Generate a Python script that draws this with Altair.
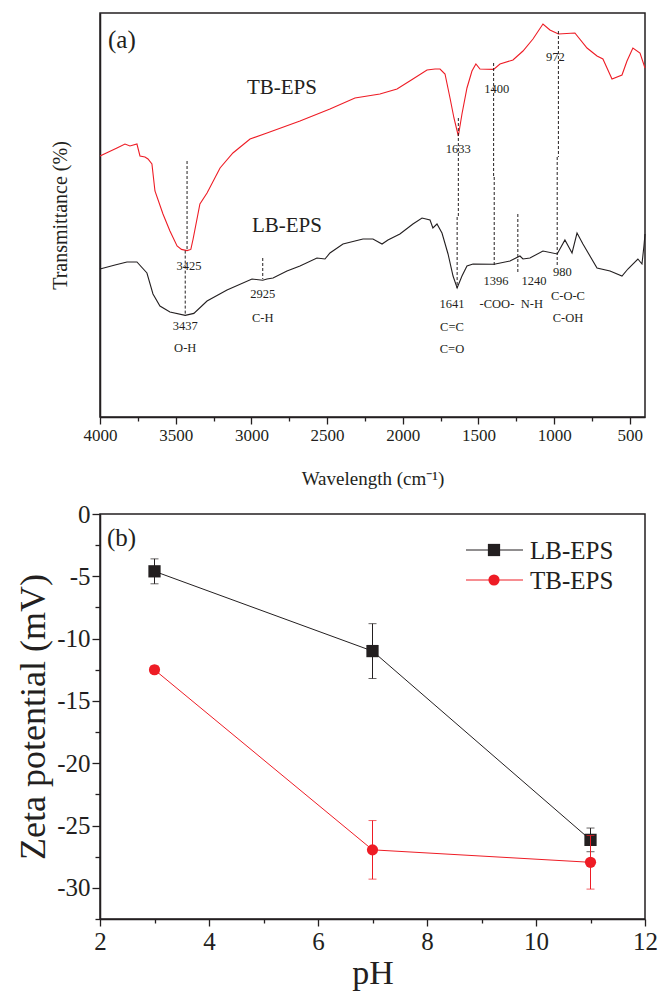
import altair as alt
import pandas as pd

FONT = "Liberation Serif"
INK = "#231f20"
RED = "#ee1c25"

# ---- (a) FTIR spectra: wavenumber (cm-1) vs transmittance (arbitrary units) ----
lb_wavenumber = [4000, 3901, 3822, 3756, 3690, 3650, 3604, 3538, 3437, 3380, 3293, 3161,
                 2996, 2925, 2897, 2857, 2765, 2679, 2567, 2514, 2481, 2395, 2263, 2197,
                 2137, 2098, 2019, 1933, 1873, 1820, 1801, 1774, 1741, 1701, 1668, 1641,
                 1609, 1576, 1536, 1396, 1292, 1226, 1206, 1160, 1074, 980, 929, 882, 849,
                 810, 717, 631, 552, 513, 447, 420, 407, 400]
lb_transmittance = [37, 38, 38.75, 38.75, 36, 30.75, 27.75, 26.25, 25.4, 25.9, 29, 31.75,
                    34.5, 34.2, 34.5, 34.75, 36.5, 37.75, 39.75, 39.5, 41, 43.25, 44.5, 44.5,
                    43.25, 44.25, 45.75, 48.25, 49.75, 49.25, 47.25, 48.25, 46, 40.75, 35.25,
                    32.25, 35.25, 37.75, 38.25, 38.2, 39, 40.25, 39.5, 39.75, 41.5, 40.75,
                    44.25, 41, 46, 43.25, 37.25, 36.5, 35.25, 37, 39.5, 38.25, 42.75, 45.75]

tb_wavenumber = [4000, 3888, 3835, 3802, 3756, 3736, 3703, 3683, 3657, 3637, 3584, 3538,
                 3491, 3462, 3425, 3400, 3385, 3340, 3293, 3207, 3122, 3009, 2897, 2679,
                 2481, 2316, 2151, 2038, 1933, 1840, 1787, 1754, 1721, 1688, 1662, 1633,
                 1609, 1576, 1543, 1517, 1490, 1400, 1358, 1272, 1206, 1140, 1074, 1028,
                 972, 863, 783, 717, 678, 618, 552, 519, 480, 433, 400]
tb_transmittance = [65.25, 67.25, 68.25, 67.75, 68.25, 65.25, 65, 64.5, 63.25, 56.5, 50.75,
                    46.5, 42.75, 41.9, 41.6, 41.9, 44.5, 53.25, 56, 62.25, 66, 69.5, 71, 74,
                    77, 79.75, 80.75, 82, 84.5, 86.75, 87, 87, 85.75, 79.75, 74.75, 70.25,
                    75.75, 82.25, 86.5, 88.25, 87, 86.9, 88.25, 89.25, 91.5, 94.5, 98.25,
                    96.75, 95.75, 96, 92.25, 90.25, 89.5, 84.5, 85.5, 89, 92.25, 91, 87.25]

# dotted guide lines at the assigned bands
guide_wavenumber = [3425, 3437, 2925, 1633, 1641, 1400, 1396, 1240, 972, 980]
guide_top = [64, 41.6, 39.75, 74.75, 50, 88.5, 60, 50.75, 96.5, 65]
guide_bottom = [41.6, 25.25, 34.5, 50, 32.25, 60, 37.75, 35.75, 65, 37.75]

# band annotations (anchor wavenumber, vertical level)
band_text = ["3425", "3437", "O-H", "2925", "C-H", "1633", "1400", "972", "1641", "C=C",
             "C=O", "1396", "-COO-", "1240", "N-H", "980", "C-O-C", "C-OH"]
band_wavenumber = [3412, 3437, 3437, 2925, 2925, 1633, 1380, 992, 1675, 1675, 1675, 1384,
                   1378, 1133, 1147, 945, 909, 909]
band_level = [37.75, 22.75, 17.25, 30.75, 24.75, 67, 82, 90, 28.25, 22.5, 17, 34, 28.25,
              34, 28.25, 36.25, 30.25, 24.75]

sample_names = ["TB-EPS", "LB-EPS"]
sample_wavenumber = [2798, 2765]
sample_level = [82.25, 47.75]

wn_major = list(range(500, 4001, 500))
wn_minor = list(range(750, 4000, 500))

# ---- (b) zeta potential vs pH ----
ph = [3, 7, 11]
lb_zeta = [-4.6, -11.0, -26.15]
lb_err = [1.0, 2.2, 0.95]
tb_zeta = [-12.5, -26.95, -27.95]
tb_err = [0.3, 2.35, 2.15]

series = ["LB-EPS", "TB-EPS"]
colors = [INK, RED]
shapes = ["square", "circle"]
marker_sizes = [150, 125]

ph_major = [2, 4, 6, 8, 10, 12]
ph_minor = [3, 5, 7, 9, 11]
zeta_major = [0, -5, -10, -15, -20, -25, -30]
zeta_minor = [-2.5, -7.5, -12.5, -17.5, -22.5, -27.5, -32.5]

color_scale = alt.Scale(domain=series, range=colors)

# ---------------- panel (a) ----------------
spectra = pd.concat([
    pd.DataFrame({"wavenumber": lb_wavenumber, "transmittance": lb_transmittance, "sample": "LB-EPS"}),
    pd.DataFrame({"wavenumber": tb_wavenumber, "transmittance": tb_transmittance, "sample": "TB-EPS"}),
])
guides = pd.DataFrame({"wavenumber": guide_wavenumber, "top": guide_top, "bottom": guide_bottom})
bands = pd.DataFrame({"wavenumber": band_wavenumber, "level": band_level, "text": band_text})
names = pd.DataFrame({"wavenumber": sample_wavenumber, "level": sample_level, "text": sample_names})

wn_scale = alt.Scale(domain=[400, 4000], reverse=True, nice=False, zero=False)
t_scale = alt.Scale(domain=[0, 101], nice=False, zero=False)

wn_axis = alt.Axis(
    values=wn_major, labelExpr="toString(datum.value)", tickSize=7,
    labelFontSize=17, labelPadding=3, labelFlush=False, labelOverlap=False,
    title="Wavelength (cm\u207b\u00b9)", titleFontSize=19, titlePadding=26, orient="bottom",
)
t_axis = alt.Axis(labels=False, ticks=False, title="Transmittance (%)",
                  titleFontSize=20, titlePadding=30)

spec_lines = alt.Chart(spectra).mark_line(strokeWidth=1.1).encode(
    x=alt.X("wavenumber:Q", scale=wn_scale, axis=wn_axis),
    y=alt.Y("transmittance:Q", scale=t_scale, axis=t_axis),
    color=alt.Color("sample:N", scale=color_scale, legend=None),
    detail="sample:N",
)
guide_rules = alt.Chart(guides).mark_rule(strokeDash=[3, 2], strokeWidth=1, color=INK).encode(
    x="wavenumber:Q", y="top:Q", y2="bottom:Q"
)
band_labels = alt.Chart(bands).mark_text(font=FONT, fontSize=12.5, color=INK).encode(
    x="wavenumber:Q", y="level:Q", text="text:N"
)
name_labels = alt.Chart(names).mark_text(font=FONT, fontSize=21, color=INK).encode(
    x="wavenumber:Q", y="level:Q", text="text:N"
)
panel_a = alt.Chart(pd.DataFrame({"panel": ["(a)"]})).mark_text(
    font=FONT, fontSize=25, color=INK, align="left", baseline="middle"
).encode(x=alt.value(8), y=alt.value(27), text="panel:N")

top_main = alt.layer(spec_lines, guide_rules, band_labels, name_labels, panel_a)

# short intermediate ticks on the wavenumber axis (carrier marks are invisible)
top_minor = alt.Chart(pd.DataFrame({"wavenumber": wn_minor})).mark_point(opacity=0, size=1).encode(
    x=alt.X("wavenumber:Q", scale=wn_scale,
            axis=alt.Axis(values=wn_minor, labels=False, tickSize=4, domain=False,
                          title="", orient="bottom")),
    y=alt.value(200),
)

top = alt.layer(top_main, top_minor).resolve_axis(x="independent").properties(
    width=545, height=404
)

# ---------------- panel (b) ----------------
ph_scale = alt.Scale(domain=[2, 12], nice=False, zero=False)
zeta_scale = alt.Scale(domain=[-32.5, 0], nice=False, zero=False)

ph_axis = alt.Axis(
    values=ph_major, labelExpr="toString(datum.value)", tickSize=7,
    labelFontSize=25, labelPadding=3, labelFlush=False, labelOverlap=False,
    title="pH", titleFontSize=34, titlePadding=2, orient="bottom",
)
zeta_axis = alt.Axis(
    values=zeta_major, labelExpr="toString(datum.value)", tickSize=8,
    labelFontSize=25, labelPadding=2, labelFlush=False, labelOverlap=False,
    title="Zeta potential (mV)", titleFontSize=36, titlePadding=4, orient="left",
)

layers = []
for name, color, shape, msize, zeta, err in zip(
    series, colors, shapes, marker_sizes, [lb_zeta, tb_zeta], [lb_err, tb_err]
):
    df = pd.DataFrame({"pH": ph, "zeta": zeta, "err": err})
    df["lo"] = df["zeta"] - df["err"]
    df["hi"] = df["zeta"] + df["err"]
    base = alt.Chart(df)
    line = base.mark_line(color=color, strokeWidth=1).encode(
        x=alt.X("pH:Q", scale=ph_scale, axis=ph_axis),
        y=alt.Y("zeta:Q", scale=zeta_scale, axis=zeta_axis),
    )
    bar = base.mark_rule(color=color, strokeWidth=1).encode(x="pH:Q", y="lo:Q", y2="hi:Q")
    cap_lo = base.mark_tick(color=color, orient="horizontal", size=8, thickness=1).encode(
        x="pH:Q", y="lo:Q"
    )
    cap_hi = base.mark_tick(color=color, orient="horizontal", size=8, thickness=1).encode(
        x="pH:Q", y="hi:Q"
    )
    pts = base.mark_point(filled=True, opacity=1, shape=shape, size=msize, color=color).encode(
        x="pH:Q", y="zeta:Q"
    )
    layers += [line, bar, cap_lo, cap_hi, pts]

# legend drawn as line + marker + name
for i, (name, color, shape, msize) in enumerate(zip(series, colors, shapes, marker_sizes)):
    row_y = 36 + 30 * i
    lbase = alt.Chart(pd.DataFrame({"series": [name]}))
    layers.append(lbase.mark_rule(color=color, strokeWidth=1).encode(
        x=alt.value(366), x2=alt.value(423), y=alt.value(row_y)))
    layers.append(lbase.mark_point(filled=True, opacity=1, shape=shape, size=msize, color=color).encode(
        x=alt.value(394), y=alt.value(row_y)))
    layers.append(lbase.mark_text(font=FONT, fontSize=25, color=INK, align="left", baseline="middle").encode(
        x=alt.value(430), y=alt.value(row_y + 1), text="series:N"))

panel_b = alt.Chart(pd.DataFrame({"panel": ["(b)"]})).mark_text(
    font=FONT, fontSize=25, color=INK, align="left", baseline="middle"
).encode(x=alt.value(7), y=alt.value(24), text="panel:N")
layers.append(panel_b)

bottom_main = alt.layer(*layers)

# short intermediate ticks on both axes of panel (b) (carrier marks are invisible)
bottom_minor_x = alt.Chart(pd.DataFrame({"pH": ph_minor})).mark_point(opacity=0, size=1).encode(
    x=alt.X("pH:Q", scale=ph_scale,
            axis=alt.Axis(values=ph_minor, labels=False, tickSize=4, domain=False,
                          title="", orient="bottom")),
    y=alt.value(200),
)
bottom_minor_y = alt.Chart(pd.DataFrame({"zeta": zeta_minor})).mark_point(opacity=0, size=1).encode(
    y=alt.Y("zeta:Q", scale=zeta_scale,
            axis=alt.Axis(values=zeta_minor, labels=False, tickSize=5, domain=False,
                          title="", orient="left")),
    x=alt.value(200),
)

bottom = alt.layer(bottom_main, bottom_minor_x, bottom_minor_y).resolve_axis(
    x="independent", y="independent"
).properties(width=545, height=405)

chart = alt.vconcat(top, bottom, spacing=97, bounds="flush").properties(
    padding={"left": 14, "top": 12, "right": 0, "bottom": 0}
).configure_axis(
    labelFont=FONT, titleFont=FONT, labelColor=INK, titleColor=INK,
    domainColor=INK, tickColor=INK, domainWidth=1.5, tickWidth=1.3,
    grid=False, titleFontWeight="normal",
).configure_view(stroke=INK, strokeWidth=1.5)

chart.save("out.html", embed_options={"renderer": "svg", "actions": False})
